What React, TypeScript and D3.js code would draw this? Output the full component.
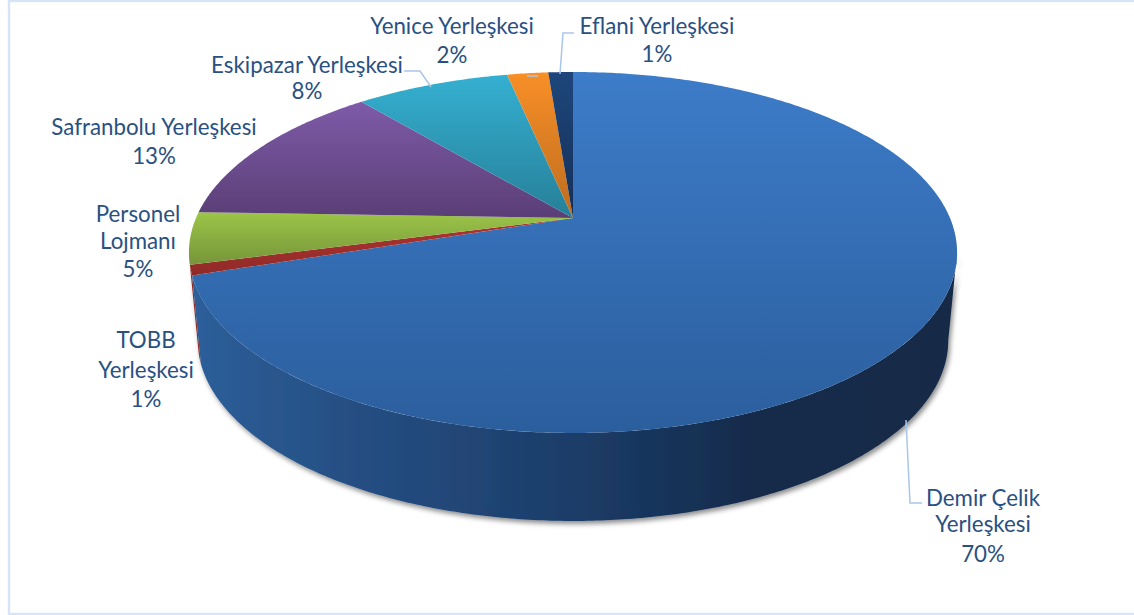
import React from "react";
import * as d3 from "d3";

const categories = ["Demir Çelik Yerleşkesi", "TOBB Yerleşkesi", "Personel Lojmanı", "Safranbolu Yerleşkesi", "Eskipazar Yerleşkesi", "Yenice Yerleşkesi", "Eflani Yerleşkesi"];
// shares as drawn in the picture (the perspective pie differs slightly from its printed, rounded labels)
const drawnShares = [70, 0.92, 4.65, 13.35, 7.8, 2.08, 1.25];
const printedPercents = ["70%", "1%", "5%", "13%", "8%", "2%", "1%"];
const labelLines = [["Demir Çelik", "Yerleşkesi"], ["TOBB", "Yerleşkesi"], ["Personel", "Lojmanı"], ["Safranbolu Yerleşkesi"], ["Eskipazar Yerleşkesi"], ["Yenice Yerleşkesi"], ["Eflani Yerleşkesi"]];
const topLight = ["#3d7cc9", "#b03432", "#9cc548", "#7e5ba8", "#35b0d1", "#f88f27", "#1e467b"];
const topDark = ["#2b5e9d", "#8f2a28", "#76953a", "#5a3e76", "#267f98", "#bd6c1e", "#142f58"];

const labelCenters = [983, 146, 138, 154, 307, 452, 657];
const labelBaselines = [[506, 532, 562], [348, 378, 407], [222, 249, 277], [135, 164], [73, 99], [34, 63], [34, 62]];
const leaders = [
  [[906, 420], [910, 503], [922, 503]],
  [[404, 71], [420, 71], [431, 87]],
  [[527, 76], [538, 76]],
  [[574, 33], [563, 33], [560, 74]],
];

const cx = 573, apexY = 218, A = 377, B = 173.9, k = 0.191;
const depth = 88, bottomScale = 0.977;

const project = (a: number): [number, number] => {
  const u = Math.sin(a), w = -Math.cos(a), d = 1 - k * w;
  return [cx + (A * u) / d, apexY + (B * w) / d];
};
const projectBottom = (a: number): [number, number] => {
  const [x, y] = project(a);
  return [cx + (x - cx) * bottomScale, y + depth];
};
const samples = (a0: number, a1: number) => {
  const n = Math.max(2, Math.ceil(Math.abs(a1 - a0) / 0.01));
  return d3.range(n + 1).map((i) => a0 + ((a1 - a0) * i) / n);
};
const line = d3.line<[number, number]>();

export default function App() {
  const arcs = d3.pie<number>().sort(null).value((d) => d)(drawnShares);
  const rad = Math.PI / 180;
  const blue = arcs[0], red = arcs[1];
  const wallBlue = [...samples(101 * rad, blue.endAngle).map(project), ...samples(blue.endAngle, 101 * rad).map(projectBottom)];
  const wallRed = [...samples(red.startAngle, red.endAngle).map(project), ...samples(red.endAngle, red.startAngle).map(projectBottom)];

  return (
    <svg width={1134} height={615} style={{ position: "absolute", left: 0, top: 0, background: "#fff" }} fontFamily="Lato, Carlito, sans-serif">
      <defs>
        {arcs.map((_, i) => (
          <linearGradient key={i} id={`top${i}`} x1="0" y1="0" x2="0" y2="1">
            <stop offset="0" stopColor={topLight[i]} />
            <stop offset="1" stopColor={topDark[i]} />
          </linearGradient>
        ))}
        <linearGradient id="wall" gradientUnits="userSpaceOnUse" x1="195" y1="0" x2="950" y2="0">
          <stop offset="0" stopColor="#2d5e99" />
          <stop offset="0.2" stopColor="#264f84" />
          <stop offset="0.5" stopColor="#1c3d69" />
          <stop offset="0.75" stopColor="#132a49" />
          <stop offset="1" stopColor="#132a47" />
        </linearGradient>
        <filter id="shadow" x="-5%" y="-5%" width="110%" height="115%">
          <feDropShadow dx="2" dy="3" stdDeviation="2.5" floodColor="#000" floodOpacity="0.45" />
        </filter>
      </defs>

      <rect x={9} y={1} width={1130} height={613} fill="none" stroke="#d6e4f6" strokeWidth={2.4} />

      <g filter="url(#shadow)">
        <path d={line(wallRed)! + "Z"} fill="#8f2a28" />
        <path d={line(wallBlue)! + "Z"} fill="url(#wall)" />
      </g>

      {arcs.map((s, i) => {
        const pts: [number, number][] = [[cx, apexY], ...samples(s.startAngle, s.endAngle).map(project)];
        return <path key={i} d={line(pts)! + "Z"} fill={`url(#top${i})`} />;
      })}

      {leaders.map((l, i) => (
        <path key={i} d={line(l as [number, number][])!} fill="none" stroke="#a9c6ea" strokeWidth={1.5} />
      ))}

      {categories.map((c, i) => (
        <text key={c} textAnchor="middle" fontSize={22.3} fill="#2a5082">
          {[...labelLines[i], printedPercents[i]].map((t, j) => (
            <tspan key={j} x={labelCenters[i]} y={labelBaselines[i][j]}>{t}</tspan>
          ))}
        </text>
      ))}
    </svg>
  );
}
